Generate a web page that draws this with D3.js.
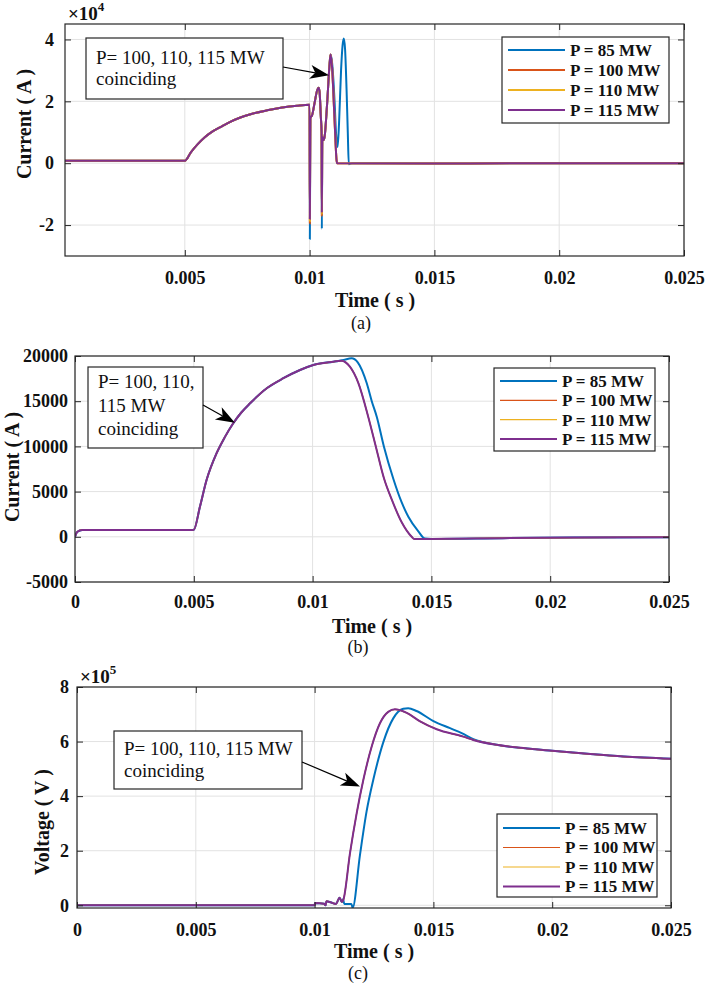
<!DOCTYPE html>
<html>
<head>
<meta charset="utf-8">
<script src="https://cdn.jsdelivr.net/npm/d3@7"></script>
<style>
    body { margin: 0; background: #fff; }
    svg text { font-family: "Liberation Serif", "Times New Roman", serif; }
</style>
</head>
<body>
<div id="canvas"></div>
<script>
"use strict"

/* Series shared by the three panels */
const seriesNames = ["P = 85 MW", "P = 100 MW", "P = 110 MW", "P = 115 MW"];
const seriesColors = ["#0072BD", "#D95319", "#EDB120", "#7E2F8E"];

/* Tick values */
const xTicksA = [0.005, 0.01, 0.015, 0.02, 0.025];
const xTicksBC = [0, 0.005, 0.01, 0.015, 0.02, 0.025];
const yTicksA = [-2, 0, 2, 4];
const yTicksB = [-5000, 0, 5000, 10000, 15000, 20000];
const yTicksC = [0, 2, 4, 6, 8];

/* Panel (a): current in units of 1e4 A */
const timeA = [0.0002, 0.0049, 0.0050, 0.00525, 0.0055, 0.0058, 0.0061, 0.0065, 0.0068, 0.0072, 0.0077, 0.0083,
    0.0089, 0.0095, 0.0100, 0.01001, 0.01003, 0.0101, 0.0102, 0.0103, 0.01036, 0.0104, 0.01045, 0.01048,
    0.01049, 0.01051, 0.01056, 0.0106, 0.0107, 0.0108, 0.01084, 0.0109, 0.0110, 0.01108, 0.0111, 0.015,
    0.02, 0.025];
const curA100 = [0.08, 0.08, 0.08, 0.36, 0.60, 0.84, 1.02, 1.20, 1.33, 1.47, 1.60, 1.71,
    1.80, 1.86, 1.89, -1.95, 1.45, 1.55, 1.95, 2.35, 2.44, 2.30, 1.50, 1.00,
    -1.72, 0.85, 0.75, 0.85, 1.90, 3.20, 3.51, 3.10, 1.40, 0.10, 0.00, -0.01,
    0.00, 0.00];
const curA110 = [0.08, 0.08, 0.08, 0.36, 0.60, 0.84, 1.02, 1.20, 1.33, 1.47, 1.60, 1.71,
    1.80, 1.86, 1.89, -1.88, 1.45, 1.55, 1.95, 2.35, 2.44, 2.30, 1.50, 1.00,
    -1.66, 0.85, 0.75, 0.85, 1.90, 3.20, 3.51, 3.10, 1.40, 0.10, 0.00, -0.01,
    0.00, 0.00];
const curA115 = [0.08, 0.08, 0.08, 0.36, 0.60, 0.84, 1.02, 1.20, 1.33, 1.47, 1.60, 1.71,
    1.80, 1.86, 1.89, -1.80, 1.45, 1.55, 1.95, 2.35, 2.44, 2.30, 1.50, 1.00,
    -1.60, 0.85, 0.75, 0.85, 1.90, 3.20, 3.51, 3.10, 1.40, 0.10, 0.00, -0.01,
    0.00, 0.00];
const timeA85 = [0.0002, 0.0049, 0.0050, 0.00525, 0.0055, 0.0058, 0.0061, 0.0065, 0.0068, 0.0072, 0.0077, 0.0083,
    0.0089, 0.0095, 0.0100, 0.01001, 0.01003, 0.0101, 0.0102, 0.0103, 0.01036, 0.0104, 0.01045, 0.01048,
    0.01049, 0.01051, 0.01056, 0.0106, 0.0107, 0.0108, 0.01084, 0.0109, 0.0110, 0.01106, 0.01112, 0.01118,
    0.01126, 0.01132, 0.01137, 0.01142, 0.01148, 0.01153, 0.01157, 0.0117, 0.015, 0.02, 0.025];
const curA85 = [0.08, 0.08, 0.08, 0.36, 0.60, 0.84, 1.02, 1.20, 1.33, 1.47, 1.60, 1.71,
    1.80, 1.86, 1.89, -2.45, 1.45, 1.55, 1.95, 2.35, 2.44, 2.30, 1.50, 1.00,
    -2.12, 0.85, 0.75, 0.85, 1.90, 3.20, 3.51, 3.25, 2.00, 0.95, 0.52, 1.30,
    3.00, 3.80, 4.03, 3.70, 2.40, 1.00, -0.03, 0.00, -0.01, 0.00, 0.00];

/* Panel (b): current in A */
const timeB = [0, 0.0001, 0.0003, 0.0049, 0.0050, 0.00526, 0.00554, 0.00596, 0.0063, 0.00666, 0.0070, 0.00737,
    0.00807, 0.00877, 0.00947, 0.01003, 0.01087, 0.0112, 0.01157, 0.01193, 0.01234, 0.01266, 0.0130, 0.01335,
    0.01375, 0.01417, 0.01428, 0.0150, 0.018, 0.021, 0.025];
const curB115 = [0, 550, 760, 760, 780, 3350, 6300, 9250, 11000, 12560, 13750, 14770,
    16430, 17540, 18450, 19000, 19370, 19480, 18820, 16980, 13290, 10000, 6500, 4000,
    1600, 0, -250, -230, -150, -90, -40];
const curB100 = [...curB115];   // coincides with 115 MW
const curB110 = [...curB115];   // coincides with 115 MW
const timeB85 = [0, 0.0001, 0.0003, 0.0049, 0.0050, 0.00526, 0.00554, 0.00596, 0.0063, 0.00666, 0.0070, 0.00737,
    0.00807, 0.00877, 0.00947, 0.01003, 0.01087, 0.0113, 0.01164, 0.0119, 0.01228, 0.01249, 0.0127, 0.0130,
    0.0134, 0.01375, 0.01403, 0.01445, 0.01473, 0.0150, 0.018, 0.021, 0.025];
const curB85 = [0, 550, 760, 760, 780, 3350, 6300, 9250, 11000, 12560, 13750, 14770,
    16430, 17540, 18450, 19000, 19370, 19550, 19750, 19300, 16980, 15000, 13290, 10000,
    6400, 3800, 2220, 600, -200, -230, -150, -90, -40];

/* Panel (c): voltage in units of 1e5 V */
const timeC = [0, 0.0100, 0.01002, 0.0104, 0.01046, 0.0105, 0.0107, 0.0109, 0.01105, 0.01115, 0.01121, 0.01149,
    0.01177, 0.01205, 0.0124, 0.01275, 0.0131, 0.01338, 0.01388, 0.01444, 0.01514, 0.01626, 0.01668, 0.01766,
    0.01878, 0.0200, 0.0216, 0.0230, 0.0250];
const voltC115 = [0, 0, 0.08, 0.06, 0.0, 0.15, 0.10, 0.05, 0.28, 0.12, 0.20, 1.91,
    3.37, 4.59, 5.81, 6.67, 7.09, 7.18, 7.05, 6.74, 6.45, 6.18, 6.06, 5.88,
    5.76, 5.66, 5.54, 5.45, 5.37];
const voltC100 = [...voltC115];   // coincides with 115 MW
const voltC110 = [...voltC115];   // coincides with 115 MW
const timeC85 = [0, 0.0100, 0.01002, 0.0104, 0.01046, 0.0105, 0.0107, 0.0109, 0.01105, 0.01115, 0.0112, 0.01125,
    0.01155, 0.0116, 0.01191, 0.01219, 0.01247, 0.0129, 0.01331, 0.01373, 0.01394, 0.01429, 0.015, 0.0157,
    0.01619, 0.01668, 0.01766, 0.01878, 0.0200, 0.0216, 0.0230, 0.0250];
const voltC85 = [0, 0, 0.08, 0.06, 0.0, 0.15, 0.10, 0.05, 0.28, 0.12, 0.22, 0.05,
    0.05, -0.09, 1.85, 3.45, 4.60, 6.00, 6.85, 7.20, 7.22, 7.12, 6.75, 6.49,
    6.31, 6.09, 5.88, 5.76, 5.66, 5.54, 5.45, 5.37];

/* Annotation texts */
const noteLinesAC = ["P= 100, 110, 115 MW", "coinciding"];
const noteLinesB = ["P= 100, 110,", "115 MW", "coinciding"];

let drawing = d3.select("#canvas")
    .append("svg")
    .attr("width", 705)
    .attr("height", 985)
    .style("background", "#fff");

function drawPanel(p) {
    let g = drawing.append("g");
    let x = d3.scaleLinear().domain(p.xDomain).range([p.left, p.right]);
    let y = d3.scaleLinear().domain(p.yDomain).range([p.bottom, p.top]);

    // grid
    g.selectAll(null).data(p.xTicks).join("line")
        .attr("x1", d => x(d)).attr("x2", d => x(d))
        .attr("y1", p.top).attr("y2", p.bottom)
        .attr("stroke", "#e2e2e2");
    g.selectAll(null).data(p.yTicks).join("line")
        .attr("x1", p.left).attr("x2", p.right)
        .attr("y1", d => y(d)).attr("y2", d => y(d))
        .attr("stroke", "#e2e2e2");

    // curves
    let clipId = "clip-" + p.name;
    drawing.append("clipPath").attr("id", clipId)
        .append("rect")
        .attr("x", p.left).attr("y", p.top)
        .attr("width", p.right - p.left).attr("height", p.bottom - p.top);

    let line = d3.line()
        .x(d => x(d[0]))
        .y(d => y(d[1]))
        .curve(d3.curveMonotoneX);

    p.series.forEach((s, i) => {
        g.append("path")
            .datum(d3.zip(s.t, s.v))
            .attr("fill", "none")
            .attr("stroke", seriesColors[i])
            .attr("stroke-width", s.w)
            .attr("stroke-linejoin", "round")
            .attr("clip-path", `url(#${clipId})`)
            .attr("d", line);
    });

    // axes, ticks pointing inwards on all four sides
    let fmt = d => String(d);
    let axes = [
        g.append("g").attr("transform", `translate(0,${p.bottom})`)
            .call(d3.axisBottom(x).tickValues(p.xTicks).tickSize(-6).tickPadding(p.xPad).tickFormat(fmt)),
        g.append("g").attr("transform", `translate(${p.left},0)`)
            .call(d3.axisLeft(y).tickValues(p.yTicks).tickSize(-6).tickPadding(p.yPad).tickFormat(fmt)),
        g.append("g").attr("transform", `translate(0,${p.top})`)
            .call(d3.axisTop(x).tickValues(p.xTicks).tickSize(-6).tickFormat("")),
        g.append("g").attr("transform", `translate(${p.right},0)`)
            .call(d3.axisRight(y).tickValues(p.yTicks).tickSize(-6).tickFormat(""))
    ];
    axes.forEach(a => {
        a.select(".domain").remove();
        a.selectAll(".tick line").attr("stroke", "#262626");
        a.selectAll("text")
            .attr("font-size", 18)
            .attr("font-weight", "bold")
            .attr("fill", "#111");
    });

    g.append("rect")
        .attr("x", p.left).attr("y", p.top)
        .attr("width", p.right - p.left).attr("height", p.bottom - p.top)
        .attr("fill", "none")
        .attr("stroke", "#262626")
        .attr("stroke-width", 1.2);

    // exponent label
    if (p.exponent) {
        let ex = g.append("text")
            .attr("x", p.exponent.x).attr("y", p.exponent.y)
            .attr("font-size", 19).attr("font-weight", "bold").attr("fill", "#111")
            .text("×10");
        ex.append("tspan").attr("font-size", 13).attr("dy", -9).text(p.exponent.power);
    }

    // axis titles and caption
    g.append("text")
        .attr("transform", `translate(${p.yLabel.x},${p.yLabel.y}) rotate(-90)`)
        .attr("text-anchor", "middle").attr("dy", "0.35em")
        .attr("font-size", 20).attr("font-weight", "bold").attr("fill", "#111")
        .text(p.yLabel.text);
    g.append("text")
        .attr("x", p.xLabel.x).attr("y", p.xLabel.y)
        .attr("text-anchor", "middle")
        .attr("font-size", 20).attr("font-weight", "bold").attr("fill", "#111")
        .text("Time ( s )");
    g.append("text")
        .attr("x", p.caption.x).attr("y", p.caption.y)
        .attr("text-anchor", "middle")
        .attr("font-size", 18).attr("fill", "#111")
        .text(p.caption.text);

    // legend
    let lg = p.legend;
    g.append("rect")
        .attr("x", lg.x).attr("y", lg.y).attr("width", lg.w).attr("height", lg.h)
        .attr("fill", "#fff").attr("stroke", "#262626").attr("stroke-width", 1.2);
    seriesNames.forEach((name, i) => {
        let ry = lg.y + lg.rowStart + i * lg.rowStep;
        g.append("line")
            .attr("x1", lg.x + 6).attr("x2", lg.x + 63)
            .attr("y1", ry).attr("y2", ry)
            .attr("stroke", seriesColors[i])
            .attr("stroke-width", p.series[i].w);
        g.append("text")
            .attr("x", lg.x + 68).attr("y", ry).attr("dy", "0.35em")
            .attr("font-size", 17).attr("font-weight", "bold").attr("fill", "#111")
            .text(name);
    });

    // annotation box with arrow
    let nt = p.note;
    g.append("rect")
        .attr("x", nt.x).attr("y", nt.y).attr("width", nt.w).attr("height", nt.h)
        .attr("fill", "#fff").attr("stroke", "#262626").attr("stroke-width", 1.2);
    nt.lines.forEach((txt, i) => {
        g.append("text")
            .attr("x", nt.x + 10).attr("y", nt.firstBase + i * nt.lineStep)
            .attr("font-size", 19).attr("fill", "#111")
            .text(txt);
    });
    let tail = nt.tail;
    let tip = [x(nt.tip[0]), y(nt.tip[1])];
    let dx = tip[0] - tail[0], dy = tip[1] - tail[1];
    let len = Math.hypot(dx, dy);
    let ux = dx / len, uy = dy / len, nx = -uy, ny = ux;
    let headLen = 19, halfW = 7, notch = 5;
    let back = [tip[0] - ux * headLen, tip[1] - uy * headLen];
    let mid = [tip[0] - ux * (headLen - notch), tip[1] - uy * (headLen - notch)];
    g.append("line")
        .attr("x1", tail[0]).attr("y1", tail[1])
        .attr("x2", mid[0]).attr("y2", mid[1])
        .attr("stroke", "#000").attr("stroke-width", 1.2);
    g.append("path")
        .attr("d", "M" + [tip, [back[0] + nx * halfW, back[1] + ny * halfW], mid,
            [back[0] - nx * halfW, back[1] - ny * halfW]].map(q => q.join(",")).join("L") + "Z")
        .attr("fill", "#000");
}

drawPanel({
    name: "a",
    left: 65, right: 684, top: 24, bottom: 256,
    xDomain: [0.0002, 0.025], yDomain: [-3, 4.5],
    xTicks: xTicksA, yTicks: yTicksA, xPad: 15, yPad: 11,
    series: [
        { t: timeA85, v: curA85, w: 2 },
        { t: timeA, v: curA100, w: 2 },
        { t: timeA, v: curA110, w: 2 },
        { t: timeA, v: curA115, w: 2 }
    ],
    exponent: { x: 68, y: 20, power: "4" },
    yLabel: { x: 24, y: 124, text: "Current ( A )" },
    xLabel: { x: 375, y: 307 },
    caption: { x: 361, y: 329, text: "(a)" },
    legend: { x: 502, y: 37, w: 167, h: 86, rowStart: 13, rowStep: 20 },
    note: { x: 86, y: 38, w: 197, h: 61, lines: noteLinesAC, firstBase: 63.5, lineStep: 21.5,
        tail: [283, 67], tip: [0.01078, 2.84] }
});

drawPanel({
    name: "b",
    left: 75, right: 669, top: 356, bottom: 582,
    xDomain: [0, 0.025], yDomain: [-5000, 20000],
    xTicks: xTicksBC, yTicks: yTicksB, xPad: 13, yPad: 7,
    series: [
        { t: timeB85, v: curB85, w: 2 },
        { t: timeB, v: curB100, w: 1.2 },
        { t: timeB, v: curB110, w: 1.2 },
        { t: timeB, v: curB115, w: 2 }
    ],
    yLabel: { x: 12, y: 467, text: "Current ( A )" },
    xLabel: { x: 372, y: 633 },
    caption: { x: 358, y: 653, text: "(b)" },
    legend: { x: 494, y: 368, w: 161, h: 83, rowStart: 13, rowStep: 19.3 },
    note: { x: 88, y: 367, w: 115, h: 81, lines: noteLinesB, firstBase: 388, lineStep: 23.5,
        tail: [203, 405], tip: [0.00673, 12620] }
});

drawPanel({
    name: "c",
    left: 77, right: 671, top: 687, bottom: 908,
    xDomain: [0, 0.025], yDomain: [-0.1, 8],
    xTicks: xTicksBC, yTicks: yTicksC, xPad: 15, yPad: 8,
    series: [
        { t: timeC85, v: voltC85, w: 2 },
        { t: timeC, v: voltC100, w: 1.2 },
        { t: timeC, v: voltC110, w: 1.2 },
        { t: timeC, v: voltC115, w: 2 }
    ],
    exponent: { x: 80, y: 683, power: "5" },
    yLabel: { x: 42, y: 822, text: "Voltage ( V )" },
    xLabel: { x: 374, y: 958 },
    caption: { x: 358, y: 979, text: "(c)" },
    legend: { x: 497, y: 814, w: 160, h: 83, rowStart: 14, rowStep: 19.5 },
    note: { x: 114, y: 731, w: 188, h: 58, lines: noteLinesAC, firstBase: 755, lineStep: 22,
        tail: [302, 762], tip: [0.01191, 4.35] }
});
</script>
</body>
</html>
